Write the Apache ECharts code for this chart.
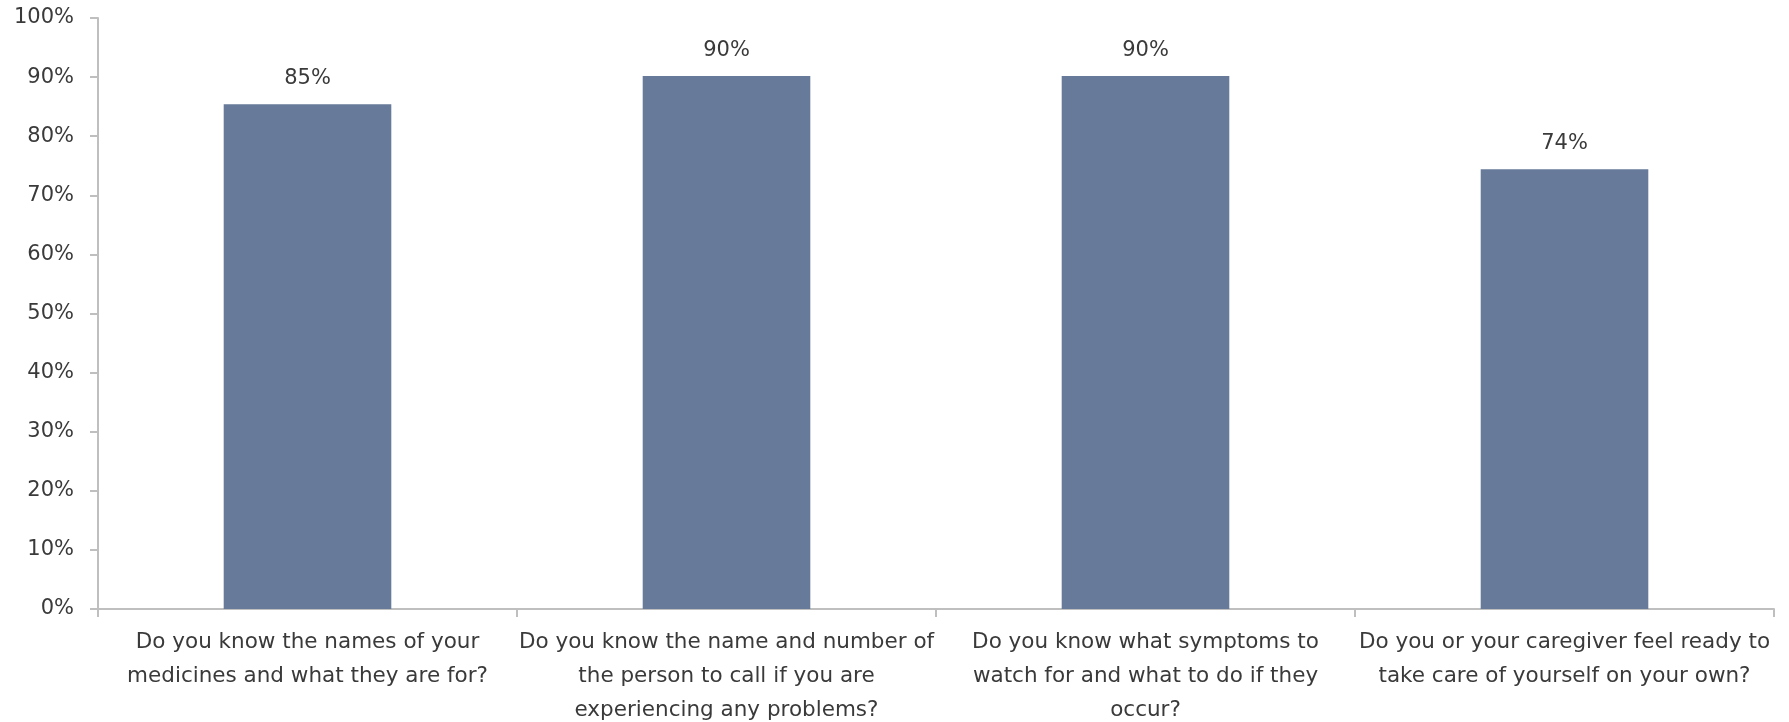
<!DOCTYPE html>
<html lang="en">
<head>
    <meta charset="UTF-8">
    <title>Discharge readiness</title>
    <script src="https://cdn.jsdelivr.net/npm/echarts@6/dist/echarts.min.js"></script>
    <style>
        html, body { margin: 0; padding: 0; background: #fff; }
    </style>
</head>
<body>
    <div id="main" style="width: 1789px;height:722px;"></div>
    <script type="text/javascript">
        // Survey questions (x axis) and share answering yes
        const questions = [
            'Do you know the names of your\nmedicines and what they are for?',
            'Do you know the name and number of\nthe person to call if you are\nexperiencing any problems?',
            'Do you know what symptoms to\nwatch for and what to do if they\noccur?',
            'Do you or your caregiver feel ready to\ntake care of yourself on your own?'
        ];
        // bar heights, labels are shown rounded
        const yesPercent = [85.4, 90.2, 90.2, 74.4];

        let myChart = echarts.init(document.getElementById('main'));

        let options = {
            textStyle: { fontFamily: 'DejaVu Sans' },
            grid: { left: 98, right: 15, top: 18, bottom: 113, containLabel: false, outerBoundsMode: 'none' },
            xAxis: {
                type: 'category',
                data: questions,
                axisLine: { lineStyle: { color: '#bfbfbf', width: 2 } },
                axisTick: { show: true, length: 8, lineStyle: { color: '#bfbfbf', width: 2 } },
                axisLabel: {
                    interval: 0,
                    color: '#3a3a3a',
                    fontSize: 21.5,
                    lineHeight: 34,
                    margin: 16
                }
            },
            yAxis: {
                type: 'value',
                min: 0,
                max: 100,
                interval: 10,
                splitLine: { show: false },
                axisLine: { show: true, lineStyle: { color: '#bfbfbf', width: 2 } },
                axisTick: { show: true, length: 8, lineStyle: { color: '#bfbfbf', width: 2 } },
                axisLabel: {
                    formatter: '{value}%',
                    color: '#3a3a3a',
                    fontSize: 21,
                    margin: 24
                }
            },
            series: [{
                type: 'bar',
                data: yesPercent,
                barWidth: '40%',
                itemStyle: { color: '#677a99' },
                label: {
                    show: true,
                    position: 'top',
                    distance: 15,
                    formatter: p => Math.round(p.value) + '%',
                    color: '#3a3a3a',
                    fontSize: 21
                }
            }]
        };

        myChart.setOption(options);
    </script>
</body>
</html>
